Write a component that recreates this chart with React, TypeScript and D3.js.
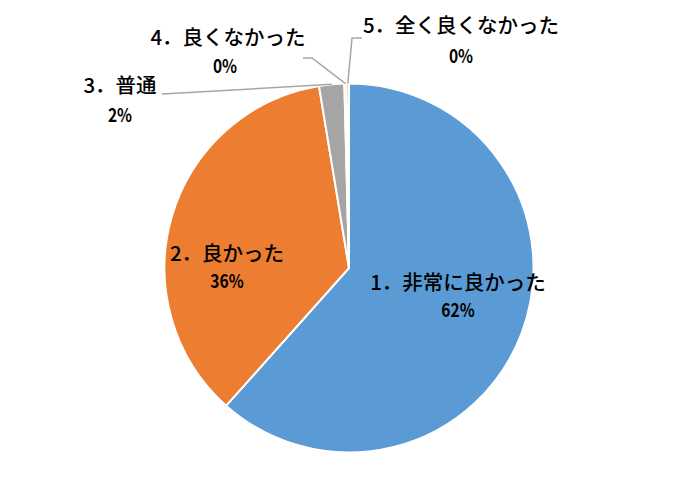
import React, { useEffect, useRef } from 'react';
import * as d3 from 'd3';

// answers and their shares (%)
const categories = [
  '1．非常に良かった',
  '2．良かった',
  '3．普通',
  '4．良くなかった',
  '5．全く良くなかった',
];
const shares = [61.6, 35.8, 2.2, 0.2, 0.2];
const colors = ['#5B9BD5', '#ED7D31', '#A5A5A5', '#FFC000', '#4472C4'];

// label placement: [centre x, name baseline, percent baseline]
const labelPos: [number, number, number][] = [
  [458, 290, 317],
  [227, 261, 288],
  [120, 93, 122],
  [228, 45, 73],
  [461, 33, 63],
];
// leader line start points for the outside labels (index -> points)
const leaders: Record<number, [number, number][]> = {
  2: [[162, 94]],
  3: [[303, 58], [312, 58]],
  4: [[362, 38], [352, 38]],
};

const W = 696;
const H = 477;
const cx = 349;
const cy = 268;
const R = 184.5;

export default function App() {
  const svgRef = useRef<SVGSVGElement | null>(null);

  useEffect(() => {
    const svg = d3.select(svgRef.current);
    svg.selectAll('*').remove();

    const pie = d3
      .pie<number>()
      .sort(null)
      .value((d) => d);
    const arcs = pie(shares);
    const arc = d3.arc<d3.PieArcDatum<number>>().innerRadius(0).outerRadius(R);
    const rim = d3.arc<d3.PieArcDatum<number>>().innerRadius(R).outerRadius(R);

    const g = svg.append('g').attr('transform', `translate(${cx}, ${cy})`);

    g.selectAll('path')
      .data(arcs)
      .join('path')
      .attr('d', arc)
      .attr('fill', (d, i) => colors[i])
      .attr('stroke', '#fff')
      .attr('stroke-width', 2);

    // leader lines
    const line = d3.line();
    Object.keys(leaders).forEach((k) => {
      const i = Number(k);
      const [ex, ey] = rim.centroid(arcs[i]);
      const pts: [number, number][] = [...leaders[i], [ex + cx, ey + cy]];
      svg
        .append('path')
        .attr('d', line(pts))
        .attr('fill', 'none')
        .attr('stroke', '#A6A6A6')
        .attr('stroke-width', 1.5);
    });

    // labels
    categories.forEach((name, i) => {
      const [x, y1, y2] = labelPos[i];
      svg
        .append('text')
        .attr('x', x)
        .attr('y', y1)
        .attr('text-anchor', 'middle')
        .style('font-family', '"Noto Sans CJK JP", sans-serif')
        .style('font-size', '20.5px')
        .style('font-weight', 500)
        .style('fill', '#000')
        .text(name);
      // percentages are drawn in a narrow, tall face
      svg
        .append('text')
        .attr('transform', `translate(${i === 3 ? x - 3 : x}, ${y2}) scale(0.82, 1)`)
        .attr('text-anchor', 'middle')
        .style('font-family', '"Noto Sans CJK JP", sans-serif')
        .style('font-size', '19px')
        .style('font-weight', 600)
        .style('fill', '#000')
        .text(`${Math.round(shares[i])}%`);
    });
  }, []);

  return (
    <>
      <style>{'body{margin:0;}'}</style>
      <svg ref={svgRef} width={W} height={H} style={{ display: 'block', background: '#fff' }} />
    </>
  );
}
